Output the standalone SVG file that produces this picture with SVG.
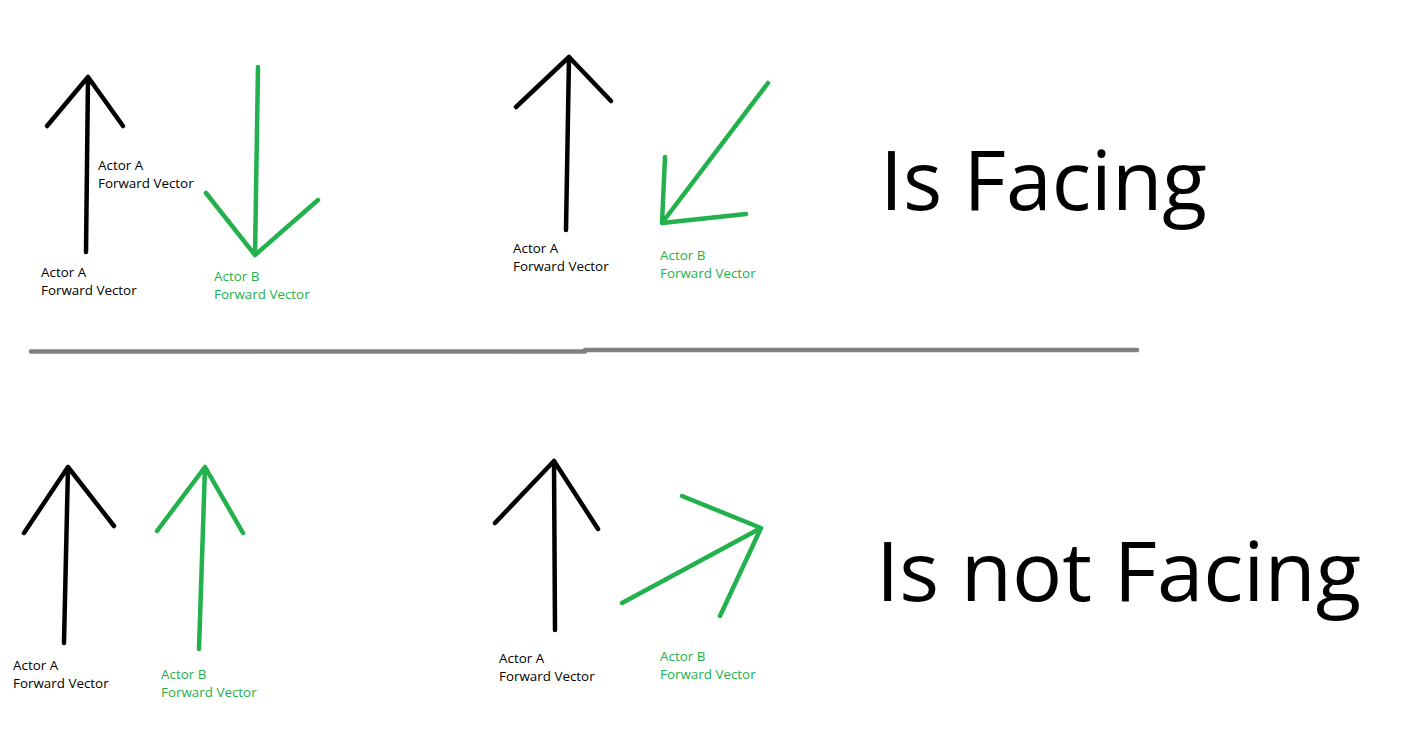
<svg xmlns="http://www.w3.org/2000/svg" width="1424" height="734" viewBox="0 0 1424 734">
<style>
.blk{fill:none;stroke:#000;stroke-width:4.5;stroke-linecap:round;stroke-linejoin:round}
.grn{fill:none;stroke:#22b14c;stroke-width:4.5;stroke-linecap:round;stroke-linejoin:round}
.sep{fill:none;stroke:#7f7f7f;stroke-width:4.5;stroke-linecap:round}
.lbl{font-family:"Open Sans","Noto Sans",sans-serif;font-size:13.4px}
.la{fill:#000}
.lb{fill:#22b14c}
.big{font-family:"Open Sans","Noto Sans",sans-serif;font-size:83px;fill:#000}
</style>
<rect width="1424" height="734" fill="#fff"/>
<g id="connectors">
  <path class="blk" d="M86,252 L88,77 M47,126 L88,77 L123,126"/>
  <path class="grn" d="M258,67 L255,255 M206,193 L255,255 L318,200"/>
  <path class="blk" d="M566,230 L569,57 M516,107 L569,57 L611,101"/>
  <path class="grn" d="M768,83 L662,223 M665,157 L662,223 L746,214"/>
  <path class="blk" d="M64,643 L68,467 M24,533 L68,467 L114,526"/>
  <path class="grn" d="M199,649 L205,467 M157,531 L205,467 L243,533"/>
  <path class="blk" d="M555,630 L554,461 M495,523 L554,461 L598,529"/>
  <path class="grn" d="M622,603 L761,528 M682,496 L761,528 L720,616"/>
</g>
<g id="separator">
  <path class="sep" d="M31,351.5 L585,351.5"/>
  <path class="sep" d="M585,350 L1137,350"/>
</g>
<g id="label-tl-a-mid">
  <text class="lbl la" x="98" y="170">Actor A</text>
  <text class="lbl la" x="98" y="188">Forward Vector</text>
</g>
<g id="label-tl-a">
  <text class="lbl la" x="41" y="277">Actor A</text>
  <text class="lbl la" x="41" y="295">Forward Vector</text>
</g>
<g id="label-tl-b">
  <text class="lbl lb" x="214" y="281">Actor B</text>
  <text class="lbl lb" x="214" y="299">Forward Vector</text>
</g>
<g id="label-tm-a">
  <text class="lbl la" x="513" y="253">Actor A</text>
  <text class="lbl la" x="513" y="271">Forward Vector</text>
</g>
<g id="label-tm-b">
  <text class="lbl lb" x="660" y="260">Actor B</text>
  <text class="lbl lb" x="660" y="278">Forward Vector</text>
</g>
<g id="label-bl-a">
  <text class="lbl la" x="13" y="670">Actor A</text>
  <text class="lbl la" x="13" y="688">Forward Vector</text>
</g>
<g id="label-bl-b">
  <text class="lbl lb" x="161" y="679">Actor B</text>
  <text class="lbl lb" x="161" y="697">Forward Vector</text>
</g>
<g id="label-bm-a">
  <text class="lbl la" x="499" y="663">Actor A</text>
  <text class="lbl la" x="499" y="681">Forward Vector</text>
</g>
<g id="label-bm-b">
  <text class="lbl lb" x="660" y="661">Actor B</text>
  <text class="lbl lb" x="660" y="679">Forward Vector</text>
</g>
<g id="title-facing">
  <text class="big" x="880" y="210" textLength="327" lengthAdjust="spacingAndGlyphs">Is Facing</text>
</g>
<g id="title-not-facing">
  <text class="big" x="876" y="601" textLength="485" lengthAdjust="spacingAndGlyphs">Is not Facing</text>
</g>
</svg>
